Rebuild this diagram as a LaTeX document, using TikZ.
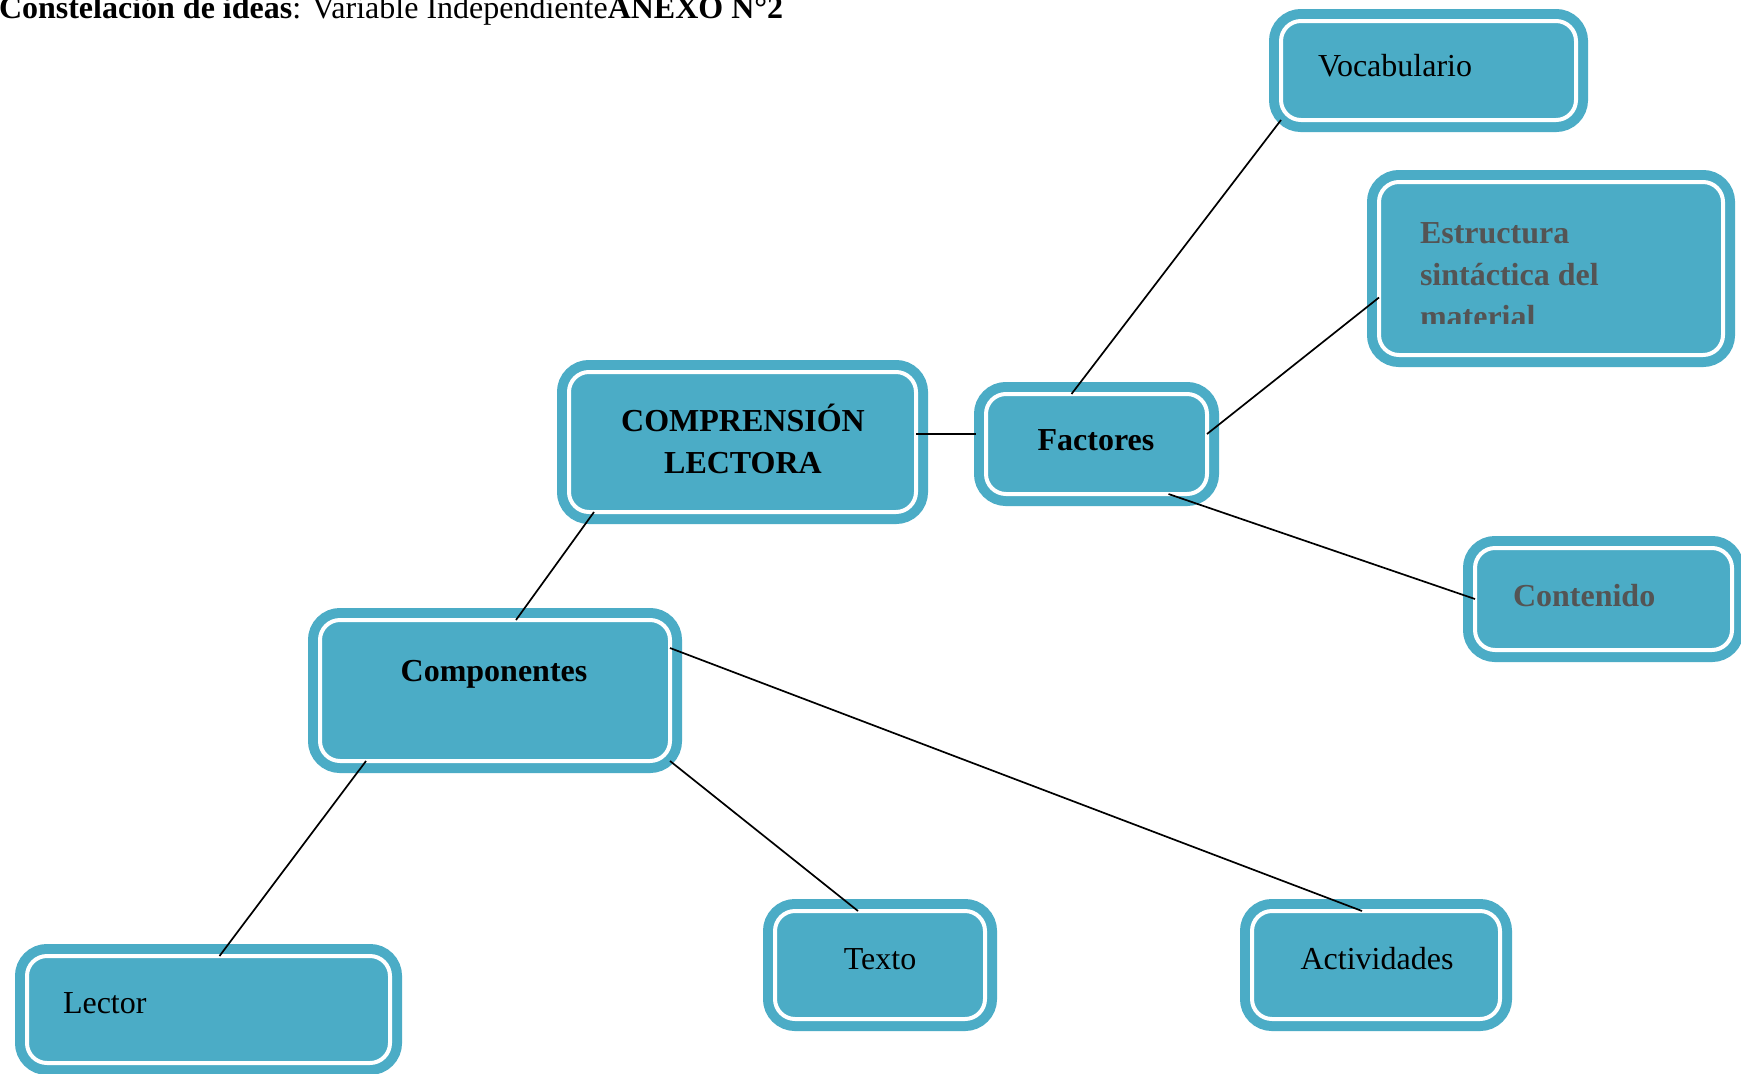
\documentclass[tikz,border=0pt]{standalone}
\usepackage{fontspec}
\setmainfont{Liberation Serif}
\usetikzlibrary{calc}
\definecolor{teala}{RGB}{75,172,198}
\definecolor{graytxt}{RGB}{84,84,84}
\tikzset{
  box/.style={draw=white, line width=4pt, fill=teala, rounded corners=20pt,
    inner sep=0pt, outer sep=0pt,
    preaction={draw=teala, fill=teala, line width=24pt, rounded corners=20pt}},
  lbl/.style={inner sep=0pt, outer sep=0pt, font=\fontsize{32}{42}\selectfont},
  blbl/.style={inner sep=0pt, outer sep=0pt, font=\fontsize{32}{42}\selectfont\bfseries},
  conn/.style={draw=black, line width=1.7pt},
}
\begin{document}
\begin{tikzpicture}[x=1pt,y=-1pt]
\path[use as bounding box, clip] (0,0) rectangle (1741,1074);
\fill[white] (0,0) rectangle (1741,1074);
% boxes
\node[box, minimum width=295pt, minimum height=99pt] (voc) at (1428.5,70.5) {};
\node[box, minimum width=344pt, minimum height=173pt] (estr) at (1551,268.5) {};
\node[box, minimum width=347pt, minimum height=140pt] (comp) at (742.5,442) {};
\node[box, minimum width=221pt, minimum height=100pt] (fact) at (1096.5,444) {};
\node[box, minimum width=257pt, minimum height=102pt] (cont) at (1603.5,599) {};
\node[box, minimum width=350pt, minimum height=141pt] (compo) at (495,690.5) {};
\node[box, minimum width=363pt, minimum height=107pt] (lect) at (208.5,1009.5) {};
\node[box, minimum width=210pt, minimum height=108pt] (txt) at (880,965) {};
\node[box, minimum width=248pt, minimum height=108pt] (act) at (1376,965) {};
% connectors
\draw[conn] ($(comp.east)+(0,-8)$) -- ($(fact.west)+(-10,-10)$);
\draw[conn] ($(fact.north)+(-25,0)$) -- (voc.south west);
\draw[conn] ($(fact.east)+(0,-10)$) -- ($(estr.west)+(0,29)$);
\draw[conn] ($(fact.south)+(72,0)$) -- (cont.west);
\draw[conn] ($(comp.south west)+(25,0)$) -- ($(compo.north)+(21,0)$);
\draw[conn] ($(compo.south west)+(46,0)$) -- ($(lect.north)+(11,0)$);
\draw[conn] (compo.south east) -- ($(txt.north)+(-22,0)$);
\draw[conn] ($(compo.north east)+(0,28)$) -- ($(act.north)+(-14,0)$);
% texts
\node[lbl, anchor=base west] (title) at (-1,18) {\textbf{Constelación de ideas}: Variable Independiente\textbf{ANEXO N°2}};
\node[lbl, anchor=base west] (tvoc) at (1318,76) {Vocabulario};
\begin{scope}
\clip (1379,182) rectangle (1723,323);
\node[blbl, text=graytxt, anchor=base west, align=left] (testr) at (1420,327) {Estructura\\sintáctica del\\material};
\end{scope}
\node[blbl, align=center, anchor=base] (tcomp) at (743,473) {COMPRENSIÓN\\LECTORA};
\node[blbl, anchor=base] (tfact) at (1096,450) {Factores};
\node[blbl, text=graytxt, anchor=base west] (tcont) at (1513,606) {Contenido};
\node[blbl, anchor=base] (tcompo) at (494,681) {Componentes};
\node[lbl, anchor=base west] (tlect) at (63,1013) {Lector};
\node[lbl, anchor=base] (ttxt) at (880,969) {Texto};
\node[lbl, anchor=base] (tact) at (1377,969) {Actividades};
\end{tikzpicture}
\end{document}
